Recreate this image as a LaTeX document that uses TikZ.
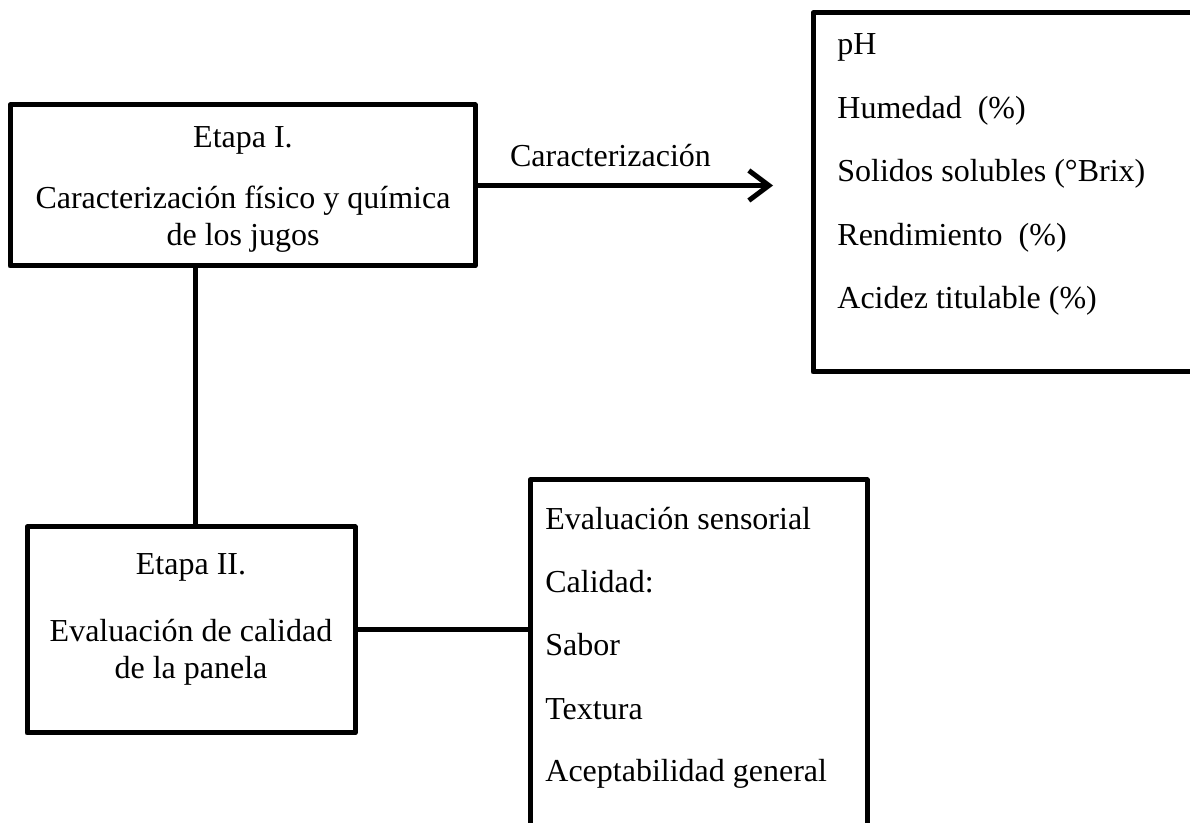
\documentclass[tikz,border=0pt]{standalone}
\usepackage{fontspec}
\setmainfont{Liberation Serif}
\usetikzlibrary{arrows.meta,positioning}

\tikzset{
  caja/.style={draw, line width=2.5pt, line join=round, inner sep=0pt},
  texto/.style={align=center},
  lista/.style={anchor=base west, inner sep=0pt},
  linea/.style={line width=2.5pt},
  flecha/.style={line width=2.5pt, -{Straight Barb[length=10pt,width=15pt]}}
}

\begin{document}
\begin{tikzpicture}[x=0.5pt, y=-0.5pt, font=\fontsize{16}{18.5}\selectfont]
  \useasboundingbox (0,0) rectangle (1190,823);

  % cajas
  \node[caja, minimum width=232.5pt, minimum height=80.5pt] (etapaI) at (242.5,185.5) {};
  \node[caja, minimum width=164pt, minimum height=103pt] (etapaII) at (191,630) {};
  \node[caja, minimum width=203.5pt, minimum height=179.5pt] (param) at (1016.5,192.5) {};
  \node[caja, minimum width=168.5pt, minimum height=195pt] (sensorial) at (698.5,675) {};

  % textos de las etapas
  \node[texto] (txtI) at (243,189) {Etapa I.\\[12pt]Caracterización físico y química\\de los jugos};
  \node[texto] (txtII) at (191,619) {Etapa II.\\[15pt]Evaluación de calidad\\de la panela};

  % listas
  \foreach \t [count=\i] in {pH, Humedad\ \ (\%), Solidos solubles (°Brix), Rendimiento\ \ (\%), Acidez titulable (\%)}
    \node[lista] (par-\i) at (837, {55+63.5*(\i-1)}) {\t};
  \foreach \t [count=\i] in {Evaluación sensorial, Calidad:, Sabor, Textura, Aceptabilidad general}
    \node[lista] (sen-\i) at (545, {530+63*(\i-1)}) {\t};

  % conectores
  \coordinate (finI) at (773,0);
  \draw[flecha] (etapaI.east) -- (etapaI.east -| finI) node[above=5pt, pos=0.45] (lblI) {Caracterización};
  \draw[linea] ([xshift=2pt]etapaII.north) -- ([xshift=2pt]etapaII.north |- etapaI.south);
  \draw[linea] (etapaII.east) -- (etapaII.east -| sensorial.west);
\end{tikzpicture}
\end{document}
